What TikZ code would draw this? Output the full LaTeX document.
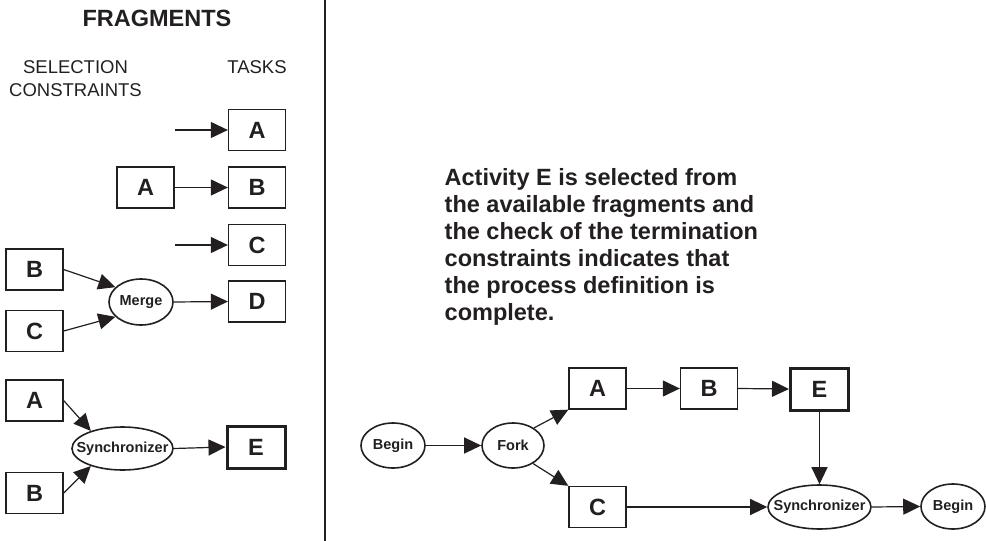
\documentclass[tikz,border=0pt]{standalone}
\usepackage{fontspec}
\setmainfont{Liberation Sans}
\usetikzlibrary{shapes.geometric,arrows.meta}
\definecolor{ink}{RGB}{35,31,32}
\tikzset{
  taskbox/.style={draw=ink, text=ink, line width=1.3pt, minimum width=57pt, minimum height=41pt, inner sep=0pt,
    font=\fontsize{23.5}{23.5}\selectfont\bfseries},
  thickbox/.style={taskbox, line width=3pt, minimum width=58pt, minimum height=42pt},
  ell/.style={draw=ink, text=ink, ellipse, line width=1.6pt, inner sep=0pt,
    font=\fontsize{14.5}{14.5}\selectfont\bfseries},
  arr/.style={draw=ink, line width=1.2pt, -{Triangle[length=17pt,width=16pt]}},
  plain/.style={text=ink, inner sep=0pt},
}
\newcommand{\zw}[1]{\makebox[0pt][c]{#1}}
\begin{document}
\begin{tikzpicture}[x=1pt,y=-1pt]
\useasboundingbox (0,0) rectangle (986,541);
% divider
\coordinate (dtop) at (325,0);
\coordinate (dbot) at (325,541);
\draw[ink, line width=1.4pt] (dtop) -- (dbot);

% left panel headings
\node[plain, font=\fontsize{23.5}{23.5}\selectfont\bfseries] (frag) at (157,18.5) {FRAGMENTS};
\node[plain, font=\fontsize{18.5}{22.5}\selectfont, align=center] (sel) at (75.5,78.5) {SELECTION\\CONSTRAINTS};
\node[plain, font=\fontsize{18.5}{22.5}\selectfont] (tasks) at (257,67.5) {TASKS};

% fragment rows
\node[taskbox] (tA) at (257,130) {A};
\coordinate (fa) at (175,130);
\draw[arr] (fa) -- (tA.west);

\node[taskbox] (lA) at (145.5,187.5) {A};
\node[taskbox] (tB) at (257,187.5) {B};
\draw[arr] (lA.east) -- (tB.west);

\node[taskbox] (tC) at (257,245) {C};
\coordinate (fc) at (175,245);
\draw[arr] (fc) -- (tC.west);

\node[taskbox] (lB) at (34.5,269.5) {B};
\node[taskbox] (lC) at (34.5,331) {C};
\node[ell, minimum width=64pt, minimum height=46pt] (merge) at (141,302) {\zw{Merge}};
\node[taskbox] (tD) at (257,301.5) {D};
\draw[arr] (lB.east) -- (merge.150);
\draw[arr] (lC.east) -- (merge.210);
\draw[arr] (merge.east) -- (tD.west);

\node[taskbox] (sA) at (34.5,400.5) {A};
\node[taskbox] (sB) at (34.5,493) {B};
\node[ell, minimum width=101pt, minimum height=43pt] (sync) at (122.5,448.5) {\zw{Synchronizer}};
\node[thickbox] (tE) at (256,447) {E};
\draw[arr] (sA.east) -- (sync.151);
\draw[arr] (sB.east) -- (sync.209);
\draw[arr] (sync.east) -- (tE.west);

% right panel text
\node[plain, anchor=north west, align=left, font=\fontsize{23.5}{27}\selectfont\bfseries] (txt) at (444.5,168.5)
 {Activity E is selected from\\the available fragments and\\the check of the termination\\constraints indicates that\\the process definition is\\complete.};

% right panel process
\node[ell, minimum width=64pt, minimum height=45pt] (beg1) at (393,445.5) {\zw{Begin}};
\node[ell, minimum width=62pt, minimum height=45pt] (fork) at (513,445.5) {\zw{Fork}};
\node[taskbox] (rA) at (597.5,388.5) {A};
\node[taskbox] (rB) at (709,388.5) {B};
\node[thickbox] (rE) at (819.5,389) {E};
\node[taskbox] (rC) at (597.5,507) {C};
\node[ell, minimum width=103pt, minimum height=44pt] (rsync) at (819.5,507) {\zw{Synchronizer}};
\node[ell, minimum width=64pt, minimum height=45pt] (beg2) at (953,506.5) {\zw{Begin}};

\draw[arr] (beg1.east) -- (fork.west);
\draw[arr] (fork.40) -- (rA.south west);
\draw[arr] (fork.-42) -- (rC.north west);
\draw[arr] (rA.east) -- (rB.west);
\draw[arr] (rB.east) -- (rE.west);
\draw[arr] (rE.south) -- (rsync.north);
\draw[arr] (rC.east) -- (rsync.west);
\draw[arr] (rsync.east) -- (beg2.west);
\end{tikzpicture}
\end{document}
